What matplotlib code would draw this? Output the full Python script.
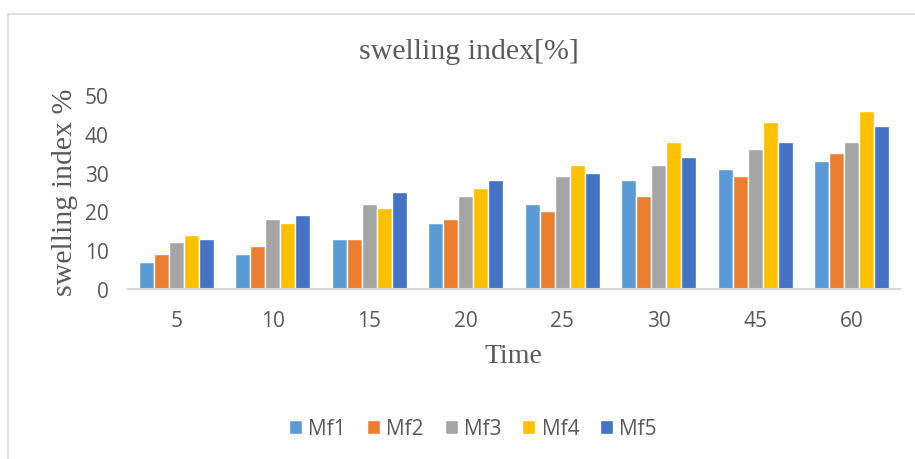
import matplotlib.pyplot as plt
import numpy as np
from matplotlib.patches import Rectangle

# data
times = ['5', '10', '15', '20', '25', '30', '45', '60']
series = ['Mf1', 'Mf2', 'Mf3', 'Mf4', 'Mf5']
mf1 = [7, 9, 13, 17, 22, 28, 31, 33]
mf2 = [9, 11, 13, 18, 20, 24, 29, 35]
mf3 = [12, 18, 22, 24, 29, 32, 36, 38]
mf4 = [14, 17, 21, 26, 32, 38, 43, 46]
mf5 = [13, 19, 25, 28, 30, 34, 38, 42]
colors = ['#5b9bd5', '#ed7d31', '#a5a5a5', '#ffc000', '#4472c4']

fig = plt.figure(figsize=(9.15, 4.6), dpi=100)
ax = fig.add_axes([128 / 915, 170 / 460, 772 / 915, 194 / 460])

# chart frame
fig.patches.append(Rectangle((8 / 915, -0.01), 0.995, 0.99 - 10 / 460 + 0.01,
                             transform=fig.transFigure, fill=False,
                             edgecolor='#d9d9d9', linewidth=1.2))

x = np.arange(len(times))
w = 0.155
for i, vals in enumerate([mf1, mf2, mf3, mf4, mf5]):
    ax.bar(x + (i - 2) * w, vals, w, color=colors[i], edgecolor='white',
           linewidth=1.0, label=series[i])

ax.set_xlim(-0.5, len(times) - 0.5)
ax.set_ylim(0, 50)
ax.set_yticks([0, 10, 20, 30, 40, 50])
ax.set_xticks(x)
ax.set_xticklabels(times)
for s in ['top', 'right', 'left']:
    ax.spines[s].set_visible(False)
ax.spines['bottom'].set_color('#d9d9d9')
ax.spines['bottom'].set_linewidth(1.5)
ax.tick_params(length=0, labelsize=15, colors='#595959', labelfontfamily='Open Sans')
ax.tick_params(axis='x', pad=15)
ax.tick_params(axis='y', pad=14)

fig.text(469 / 915, 1 - 52 / 460, 'swelling index[%]', ha='center', va='center',
         family='Liberation Serif', fontsize=21.5, color='#595959')
fig.text(65 / 915, 1 - 192 / 460, 'swelling index %', ha='center', va='center',
         rotation=90, family='Liberation Serif', fontsize=21.5, color='#595959')
fig.text(513 / 915, 1 - 357 / 460, 'Time', ha='center', va='center',
         family='Liberation Serif', fontsize=20, color='#595959')

leg = fig.legend(loc='center', bbox_to_anchor=(473 / 915, 1 - 430 / 460), ncol=5,
                 frameon=False, handlelength=0.63, handleheight=0.63,
                 handletextpad=0.3, columnspacing=1.0,
                 prop={'family': 'Open Sans', 'size': 15})
for t in leg.get_texts():
    t.set_color('#595959')

fig.savefig('out.png', dpi=100)
